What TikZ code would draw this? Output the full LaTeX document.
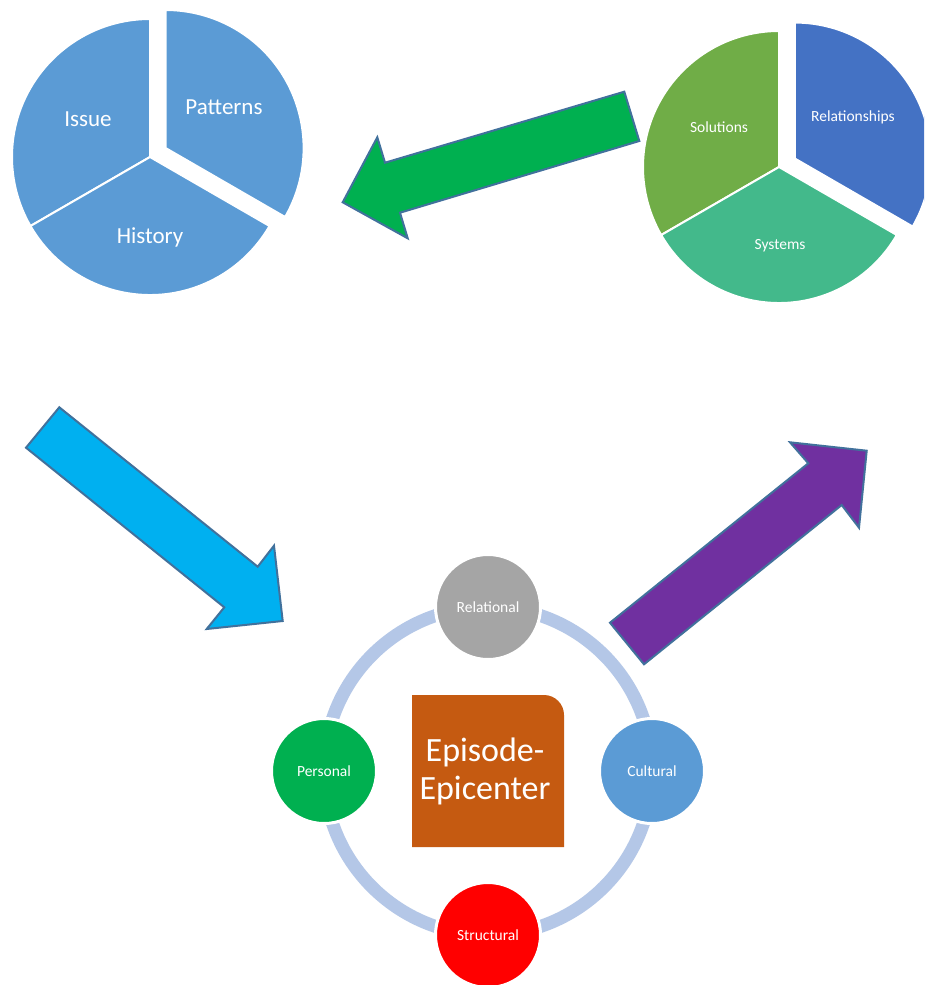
\documentclass[tikz,border=0pt]{standalone}
\usepackage{fontspec}
\setmainfont{Carlito}
\definecolor{pieblue}{HTML}{5B9BD5}
\definecolor{solgreen}{HTML}{70AD47}
\definecolor{systeal}{HTML}{43B98B}
\definecolor{relblue}{HTML}{4472C4}
\definecolor{arrgreen}{HTML}{00B050}
\definecolor{arrcyan}{HTML}{00B0F0}
\definecolor{arrpurple}{HTML}{7030A0}
\definecolor{arroutline}{HTML}{41719C}
\definecolor{ringblue}{HTML}{B4C7E7}
\definecolor{relgray}{HTML}{A5A5A5}
\definecolor{perfgreen}{HTML}{00B050}
\definecolor{culblue}{HTML}{5B9BD5}
\definecolor{strred}{HTML}{FF0000}
\definecolor{boxorange}{HTML}{C55A11}
\tikzset{
  slice/.style={draw=white, line width=2pt, line join=round},
  bigarrow/.style={draw=arroutline, line width=2pt, line join=miter},
  pielabelL/.style={anchor=base, text=white, inner sep=0pt, font=\fontsize{23}{27}\selectfont},
  pielabelS/.style={anchor=base, text=white, inner sep=0pt, font=\fontsize{15.5}{18}\selectfont},
  ringnode/.style={circle, minimum size=105pt, inner sep=0pt, draw=white, line width=3pt,
    text=white, text height=10pt, text depth=0pt, font=\fontsize{15.5}{18}\selectfont},
  epitext/.style={anchor=base, text=white, inner sep=0pt, font=\fontsize{34}{38}\selectfont}
}
\begin{document}
\begin{tikzpicture}[x=1pt, y=-1pt]
\clip (0,0) rectangle (924,985);
\fill[white] (0,0) rectangle (924,985);
% ---- top-left pie
\begin{scope}[shift={(150,157)}]
  \fill[pieblue, slice] (0,0) -- (90:138pt) arc[start angle=90, end angle=210, radius=138pt] -- cycle;
  \fill[pieblue, slice] (0,0) -- (210:138pt) arc[start angle=210, end angle=330, radius=138pt] -- cycle;
  \begin{scope}[shift={(30:18pt)}]
    \fill[pieblue, slice] (0,0) -- (-30:138pt) arc[start angle=-30, end angle=90, radius=138pt] -- cycle;
  \end{scope}
\end{scope}
\node[pielabelL] (issue) at (88,126) {Issue};
\node[pielabelL] (patterns) at (224,114.3) {Patterns};
\node[pielabelL] (history) at (150,243.3) {History};
% ---- top-right pie
\begin{scope}[shift={(779,167)}]
  \fill[solgreen, slice] (0,0) -- (90:136pt) arc[start angle=90, end angle=210, radius=136pt] -- cycle;
  \fill[systeal, slice] (0,0) -- (210:136pt) arc[start angle=210, end angle=330, radius=136pt] -- cycle;
  \begin{scope}[shift={(28:18pt)}]
    \fill[relblue, slice] (0,0) -- (-30:136pt) arc[start angle=-30, end angle=90, radius=136pt] -- cycle;
  \end{scope}
\end{scope}
\node[pielabelS] (solutions) at (719,132.7) {Solutions};
\node[pielabelS] (relationships) at (853,121.7) {Relationships};
\node[pielabelS] (systems) at (780,249.3) {Systems};
% ---- arrows
\filldraw[fill=arrgreen, bigarrow] (624.3,91.7) -- (639.3,141) -- (400,212.7) -- (407.7,238.3)
  -- (342.7,202.3) -- (377.3,137.3) -- (385,162.7) -- cycle;
\filldraw[fill=arrcyan, bigarrow] (59.3,407.3) -- (26,447.7) -- (224.3,607.3) -- (206.7,629)
  -- (282.7,621) -- (274,545.7) -- (257.7,566.7) -- cycle;
\filldraw[fill=arrpurple, bigarrow] (644,664.3) -- (610,622.7) -- (808.3,463.3) -- (790,442.3)
  -- (866.7,450.7) -- (859,527.7) -- (841.7,505) -- cycle;
% ---- bottom cycle
\coordinate (ringc) at (488,771);
\draw[ringblue, line width=13pt] (ringc) circle[radius=164pt];
\fill[boxorange] (412,847) -- (412,695) -- (544,695)
  arc[start angle=90, end angle=0, radius=20pt] -- (564,847) -- cycle;
\node[epitext] (epi1) at (485,761.7) {Episode-};
\node[epitext] (epi2) at (485,799.3) {Epicenter};
\node[ringnode, fill=relgray] (relational) at (488,607) {Relational};
\node[ringnode, fill=perfgreen] (personal) at (324,771) {Personal};
\node[ringnode, fill=culblue] (cultural) at (652,771) {Cultural};
\node[ringnode, fill=strred] (structural) at (488,935) {Structural};
\end{tikzpicture}
\end{document}
